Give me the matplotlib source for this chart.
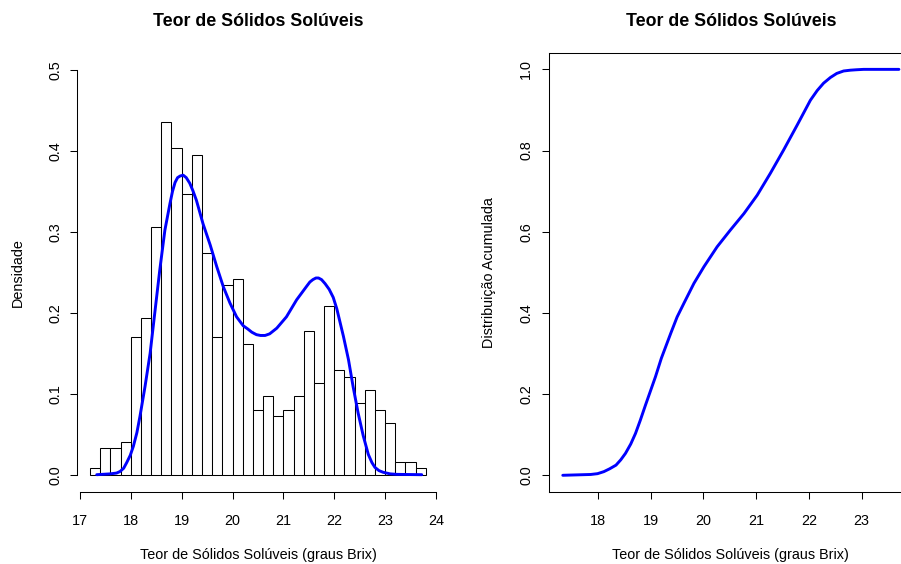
# solidos_soluveis.py
# Histograma e distribuicao acumulada do teor de solidos soluveis (graus Brix)

import numpy as np
import matplotlib
matplotlib.use('Agg')
import matplotlib.pyplot as plt

plt.rcParams['font.family'] = ['Liberation Sans', 'DejaVu Sans']

# Classes do histograma (largura 0.2 grau Brix) e densidades
bin_edges = [17.2, 17.4, 17.6, 17.8, 18.0, 18.2, 18.4, 18.6, 18.8, 19.0, 19.2,
             19.4, 19.6, 19.8, 20.0, 20.2, 20.4, 20.6, 20.8, 21.0, 21.2, 21.4,
             21.6, 21.8, 22.0, 22.2, 22.4, 22.6, 22.8, 23.0, 23.2, 23.4, 23.6,
             23.8]
hist_density = [0.0078, 0.0329, 0.0329, 0.0407, 0.1696, 0.1934, 0.3064,
                0.4357, 0.4037, 0.3470, 0.3955, 0.2739, 0.1696, 0.2340,
                0.2419, 0.1614, 0.0800, 0.0973, 0.0723, 0.0800, 0.0973,
                0.1774, 0.1133, 0.2090, 0.1290, 0.1211, 0.0891, 0.1051,
                0.0800, 0.0640, 0.0160, 0.0160, 0.0078]

# Densidade ajustada
dens_x = [17.33, 17.59, 17.72, 17.79, 17.86, 17.92, 17.99, 18.05, 18.12,
          18.18, 18.28, 18.38, 18.47, 18.57, 18.67, 18.77, 18.82, 18.87,
          18.92, 18.97, 19.03, 19.09, 19.16, 19.22, 19.29, 19.42, 19.56,
          19.69, 19.82, 19.95, 20.08, 20.21, 20.30, 20.38, 20.47, 20.55,
          20.64, 20.73, 20.87, 21.06, 21.26, 21.46, 21.52, 21.58, 21.64,
          21.69, 21.75, 21.82, 21.90, 21.98, 22.05, 22.18, 22.28, 22.37,
          22.47, 22.57, 22.67, 22.74, 22.80, 22.88, 22.96, 23.10, 23.23,
          23.72]
dens_y = [0.000, 0.001, 0.002, 0.004, 0.008, 0.015, 0.024, 0.035, 0.052,
          0.072, 0.109, 0.150, 0.199, 0.253, 0.302, 0.335, 0.350, 0.361,
          0.367, 0.369, 0.370, 0.367, 0.360, 0.351, 0.339, 0.310, 0.284,
          0.257, 0.232, 0.212, 0.195, 0.184, 0.180, 0.176, 0.173, 0.172,
          0.172, 0.174, 0.181, 0.195, 0.216, 0.233, 0.238, 0.241, 0.243,
          0.243, 0.241, 0.236, 0.229, 0.219, 0.205, 0.171, 0.142, 0.109,
          0.076, 0.048, 0.025, 0.015, 0.009, 0.005, 0.003, 0.001, 0.0004,
          0.000]

# Distribuicao acumulada
cdf_x = [17.33, 17.86, 17.99, 18.11, 18.22, 18.34, 18.43, 18.52, 18.62,
         18.71, 18.80, 18.90, 19.09, 19.20, 19.38, 19.50, 19.63, 19.82,
         20.01, 20.26, 20.51, 20.77, 21.02, 21.27, 21.52, 21.78, 22.03,
         22.16, 22.28, 22.41, 22.53, 22.66, 22.79, 22.90, 23.04, 23.71]
cdf_y = [0.000, 0.002, 0.004, 0.009, 0.016, 0.025, 0.038, 0.054, 0.077,
         0.103, 0.135, 0.173, 0.243, 0.288, 0.350, 0.390, 0.424, 0.473,
         0.514, 0.563, 0.604, 0.645, 0.690, 0.744, 0.801, 0.863, 0.924,
         0.948, 0.966, 0.980, 0.990, 0.996, 0.998, 0.999, 1.000, 1.000]

titulo = 'Teor de Sólidos Solúveis'
rotulo_x = 'Teor de Sólidos Solúveis (graus Brix)'

fig = plt.figure(figsize=(9.01, 5.64), dpi=100)
ax1 = fig.add_axes([0.0851, 0.1285, 0.4024, 0.7773])
ax2 = fig.add_axes([0.6097, 0.1285, 0.4029, 0.7773])

fs = 10.4
tick_kw = dict(direction='out', length=5, width=0.75, labelsize=fs)
linha = dict(color='blue', linewidth=2.1, solid_joinstyle='round',
             solid_capstyle='round')

# Histograma + densidade
edges = np.array(bin_edges)
ax1.bar(edges[:-1], hist_density, width=np.diff(edges), align='edge',
        color='white', edgecolor='black', linewidth=0.75)
ax1.plot(dens_x, dens_y, **linha)
ax1.set_xlim(16.936, 24.064)
ax1.set_ylim(-0.0208, 0.5208)
ax1.set_xticks(range(17, 25))
ax1.set_yticks([0.0, 0.1, 0.2, 0.3, 0.4, 0.5])
ax1.set_yticklabels(['0.0', '0.1', '0.2', '0.3', '0.4', '0.5'],
                    rotation=90, va='center')
for s in ['top', 'right']:
    ax1.spines[s].set_visible(False)
ax1.spines['bottom'].set_bounds(17, 24)
ax1.spines['left'].set_bounds(0, 0.5)
for s in ['bottom', 'left']:
    ax1.spines[s].set_linewidth(0.75)
ax1.tick_params(axis='x', pad=11, **tick_kw)
ax1.tick_params(axis='y', pad=5.5, **tick_kw)
ax1.set_title(titulo, fontsize=12.8, fontweight='bold', pad=19.5)
ax1.set_xlabel(rotulo_x, fontsize=fs, labelpad=14.5)
ax1.set_ylabel('Densidade', fontsize=fs, labelpad=17)

# Distribuicao acumulada
ax2.plot(cdf_x, cdf_y, **linha)
ax2.set_xlim(17.075, 23.965)
ax2.set_ylim(-0.04, 1.04)
ax2.set_xticks(range(18, 24))
ax2.set_yticks([0.0, 0.2, 0.4, 0.6, 0.8, 1.0])
ax2.set_yticklabels(['0.0', '0.2', '0.4', '0.6', '0.8', '1.0'],
                    rotation=90, va='center')
for s in ax2.spines.values():
    s.set_linewidth(0.75)
ax2.tick_params(axis='x', pad=11, **tick_kw)
ax2.tick_params(axis='y', pad=6.5, **tick_kw)
ax2.set_title(titulo, fontsize=12.8, fontweight='bold', pad=19.5)
ax2.set_xlabel(rotulo_x, fontsize=fs, labelpad=14.5)
ax2.set_ylabel('Distribuição Acumulada', fontsize=fs, labelpad=17)

plt.savefig('out.png', dpi=100)
